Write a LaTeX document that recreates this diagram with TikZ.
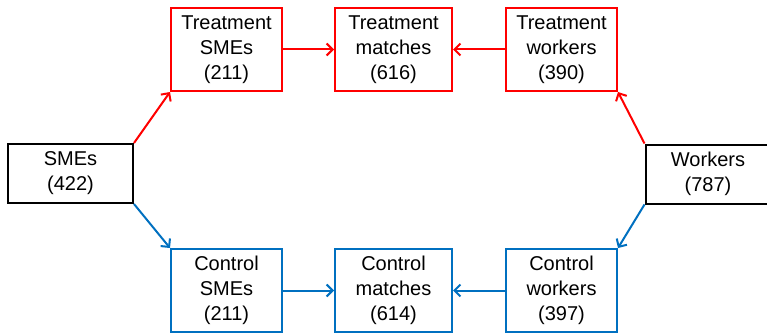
\documentclass[tikz,border=0pt]{standalone}
\usepackage{fontspec}
\setmainfont{Liberation Sans}
\definecolor{TreatRed}{RGB}{255,0,0}
\definecolor{CtrlBlue}{RGB}{0,112,192}
\usepackage{tikz}
\usetikzlibrary{arrows.meta,positioning}

\begin{document}
\begin{tikzpicture}[
        font=\fontsize{20}{25}\selectfont,
        pool/.style={draw=black, line width=2pt, align=center, inner sep=0pt,
                     minimum width=125pt, minimum height=59pt},
        treat/.style={draw=TreatRed, line width=2pt, align=center, inner sep=0pt,
                      minimum width=111pt, minimum height=83pt},
        ctrl/.style={draw=CtrlBlue, line width=2pt, align=center, inner sep=0pt,
                     minimum width=111pt, minimum height=83pt},
        matchbox/.style={minimum width=117pt},
        tlnk/.style={-{Straight Barb[length=6pt,width=12pt]}, line width=2pt, TreatRed},
        clnk/.style={-{Straight Barb[length=6pt,width=12pt]}, line width=2pt, CtrlBlue}
      ]
        \useasboundingbox (0,0) rectangle (767pt,-334pt);
        \node[pool]  (smes)    at (70.5pt,-173.5pt) {SMEs\\(422)};
        \node[pool]  (workers) at (708pt,-174pt)    {Workers\\(787)};
        \node[treat] (tsmes)   at (226.5pt,-49.5pt) {Treatment\\SMEs\\(211)};
        \node[treat, matchbox, right=51pt of tsmes]  (tmatch) {Treatment\\matches\\(616)};
        \node[treat, right=52pt of tmatch]           (twork)  {Treatment\\workers\\(390)};
        \node[ctrl]  (csmes)   at (226.5pt,-290.5pt) {Control\\SMEs\\(211)};
        \node[ctrl, matchbox, right=51pt of csmes]   (cmatch) {Control\\matches\\(614)};
        \node[ctrl, right=52pt of cmatch]            (cwork)  {Control\\workers\\(397)};
        \draw[tlnk] (smes.north east) -- (tsmes.south west);
        \draw[clnk] (smes.south east) -- (csmes.north west);
        \draw[tlnk] (workers.north west) -- (twork.south east);
        \draw[clnk] (workers.south west) -- (cwork.north east);
        \draw[tlnk] (tsmes) -- (tmatch);
        \draw[tlnk] (twork) -- (tmatch);
        \draw[clnk] (csmes) -- (cmatch);
        \draw[clnk] (cwork) -- (cmatch);
      \end{tikzpicture}
\end{document}
